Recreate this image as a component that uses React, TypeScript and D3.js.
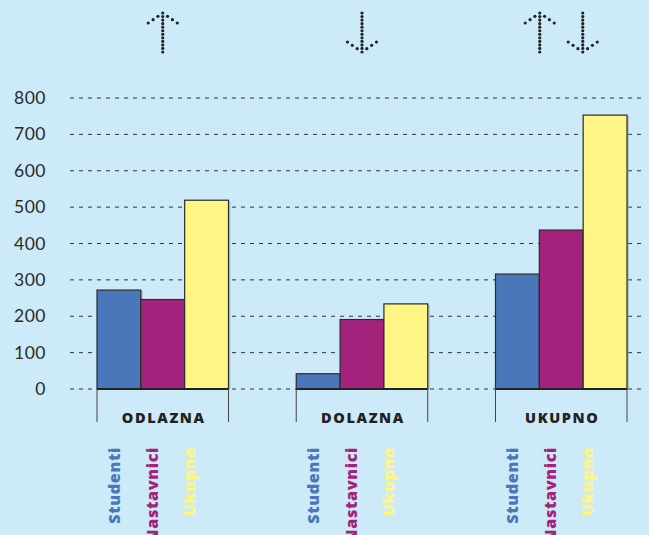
import { scaleBand, scaleLinear, scalePoint, range } from "d3";

const WIDTH = 649;
const HEIGHT = 535;

const groups = ["ODLAZNA", "DOLAZNA", "UKUPNO"];
const series = ["Studenti", "Nastavnici", "Ukupno"];
const studenti = [272, 42, 316];
const nastavnici = [246, 191, 437];
const ukupno = [519, 234, 753];
const yTicks = [0, 100, 200, 300, 400, 500, 600, 700, 800];
const arrows = [["up"], ["down"], ["up", "down"]];

const colors = ["#4a77ba", "#a3227b", "#fff584"];
const values = [studenti, nastavnici, ukupno];

function dotsOnLine(x1: number, y1: number, x2: number, y2: number, n: number) {
  return range(n + 1).map((i) => [x1 + ((x2 - x1) * i) / n, y1 + ((y2 - y1) * i) / n]);
}

function Arrow({ x, dir }: { x: number; dir: string }) {
  const top = 13;
  const bottom = 52;
  const tipY = dir === "up" ? top : bottom;
  const wingY = dir === "up" ? top + 10 : bottom - 10;
  const dots = [
    ...dotsOnLine(x, top, x, bottom, 11),
    ...dotsOnLine(x, tipY, x - 14.5, wingY, 3).slice(1),
    ...dotsOnLine(x, tipY, x + 14.5, wingY, 3).slice(1),
  ];
  return (
    <g>
      {dots.map(([cx, cy], i) => (
        <circle key={i} cx={cx} cy={cy} r={1.6} fill="#222" />
      ))}
    </g>
  );
}

export default function App() {
  const x = scaleBand().domain(groups).range([97, 627]).paddingInner(0.34);
  const xs = scaleBand().domain(series).range([0, x.bandwidth()]);
  const xl = scalePoint().domain(series).range([23, 98]);
  const y = scaleLinear().domain([0, 800]).range([389, 98]);

  return (
    <svg width={WIDTH} height={HEIGHT} style={{ position: "absolute", left: 0, top: 0, background: "#cdeaf9" }}>
      {yTicks.map((t) => (
        <g key={t}>
          <line x1={70} x2={646} y1={y(t)} y2={y(t)} stroke="#333" strokeWidth={1} strokeDasharray="4 5" />
          <text x={46} y={y(t) + 6} textAnchor="end" fontFamily="Lato, 'Open Sans', sans-serif" fontSize={17.5} letterSpacing={0.5} fill="#2a2a2a">
            {t}
          </text>
        </g>
      ))}
      {arrows.map((dirs, gi) => {
        const cx = (x(groups[gi]) ?? 0) + x.bandwidth() / 2;
        return dirs.map((d, j) => (
          <Arrow key={`${gi}-${j}`} dir={d} x={dirs.length === 1 ? cx : cx + (j === 0 ? -21.5 : 21.5)} />
        ));
      })}
      {groups.map((g, gi) => {
        const gx = x(g) ?? 0;
        return (
          <g key={g}>
            {series.map((s, si) => {
              const bx = gx + (xs(s) ?? 0);
              const v = values[si][gi];
              return (
                <g key={s}>
                  <rect x={bx + 2} y={y(v) + 1} width={xs.bandwidth()} height={y(0) - y(v) - 1} fill="#8aa0ad" opacity={0.5} />
                  <rect x={bx} y={y(v)} width={xs.bandwidth()} height={y(0) - y(v)} fill={colors[si]} stroke="#2b2b2b" strokeWidth={1.2} />
                </g>
              );
            })}
            <line x1={gx} x2={gx + x.bandwidth()} y1={y(0)} y2={y(0)} stroke="#222" strokeWidth={2.2} />
            <line x1={gx} x2={gx} y1={y(0)} y2={422} stroke="#444" strokeWidth={1} />
            <line x1={gx + x.bandwidth()} x2={gx + x.bandwidth()} y1={y(0)} y2={422} stroke="#444" strokeWidth={1} />
            <text x={gx + x.bandwidth() / 2 + 1} y={423} textAnchor="middle" fontFamily="'Open Sans', sans-serif" fontWeight={800} fontSize={14.5} letterSpacing={1.6} fill="#222">
              {g}
            </text>
            {series.map((s, si) => (
              <text
                key={s}
                transform={`translate(${gx + (xl(s) ?? 0)},447) rotate(-90)`}
                textAnchor="end"
                fontFamily="'Open Sans', sans-serif"
                fontWeight={800}
                fontSize={16.3}
                letterSpacing={0.6}
                fill={colors[si]}
              >
                {s}
              </text>
            ))}
          </g>
        );
      })}
    </svg>
  );
}
